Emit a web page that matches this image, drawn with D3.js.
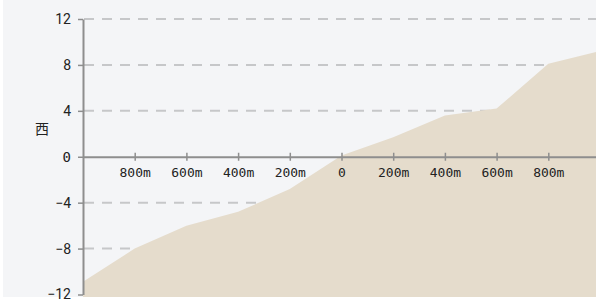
<!DOCTYPE html>
<html>
<head>
<meta charset="utf-8">
<script src="https://cdn.jsdelivr.net/npm/d3@7"></script>
<style>
  html, body { margin: 0; padding: 0; background: #fff; }
  svg { display: block; }
</style>
</head>
<body>
<div id="chart"></div>
<script>
// distance (m) along the section, west is negative
var distances = [-1000, -800, -600, -400, -200, 0, 200, 400, 600, 800, 1000];
var elevations = [-10.9, -8, -6, -4.8, -2.8, 0.1, 1.7, 3.6, 4.2, 8.1, 9.2];
var xTicks = [-800, -600, -400, -200, 0, 200, 400, 600, 800];
var yTicks = [12, 8, 4, 0, -4, -8, -12];
var gridValues = [12, 8, 4, -4, -8];
var sideLabel = "西";

var width = 596, height = 300;
var margin = { left: 83, right: 600, top: 19, bottom: 294.5 },
  plotBottom = 297;

var svg = d3.select("#chart")
  .append("svg")
  .attr("width", width)
  .attr("height", height);

svg.append("rect")
  .attr("x", 3)
  .attr("y", 0)
  .attr("width", width - 3)
  .attr("height", plotBottom)
  .attr("fill", "#f4f5f7");

var x = d3.scaleLinear().domain([-1000, 1000]).range([margin.left, margin.right]);
var y = d3.scaleLinear().domain([-12, 12]).range([margin.bottom, margin.top]);

// dashed grid
svg.append("g")
  .selectAll("line")
  .data(gridValues)
  .enter()
  .append("line")
  .attr("x1", margin.left + 1)
  .attr("x2", width)
  .attr("y1", function (d) { return y(d); })
  .attr("y2", function (d) { return y(d); })
  .attr("stroke", "#c6c7c9")
  .attr("stroke-width", 2)
  .attr("stroke-dasharray", "10,8");

var pts = distances.map(function (d, i) { return [d, elevations[i]]; });

var area = d3.area()
  .x(function (d) { return x(d[0]); })
  .y0(plotBottom)
  .y1(function (d) { return y(d[1]); });

svg.append("path")
  .datum(pts)
  .attr("d", area)
  .attr("fill", "#e5dccc");

// y axis
var yAxis = svg.append("g")
  .attr("transform", "translate(" + margin.left + ",0)")
  .call(d3.axisLeft(y).tickValues(yTicks).tickSize(5).tickPadding(7).tickSizeOuter(0));

yAxis.select(".domain").attr("stroke", "#8e8e8e").attr("stroke-width", 2);
yAxis.selectAll(".tick line").attr("stroke", "#8e8e8e").attr("stroke-width", 1.5);
yAxis.selectAll(".tick text")
  .attr("fill", "#222")
  .style("font-size", "14px")
  .style("font-family", function (d) {
    return d === 0 ? "'DejaVu Sans Mono', monospace" : "Roboto, sans-serif";
  });

// x axis on the zero line
var xAxis = svg.append("g")
  .attr("transform", "translate(0," + y(0) + ")")
  .call(d3.axisBottom(x)
    .tickValues(xTicks)
    .tickSize(3)
    .tickPadding(8)
    .tickSizeOuter(0)
    .tickFormat(function (d) { return d === 0 ? "0" : Math.abs(d) + "m"; }));

xAxis.select(".domain").attr("stroke", "#8e8e8e").attr("stroke-width", 2);
xAxis.selectAll(".tick line")
  .attr("y1", -4)
  .attr("y2", 4)
  .attr("stroke", "#8e8e8e")
  .attr("stroke-width", 1.5);
xAxis.selectAll(".tick text")
  .attr("fill", "#222")
  .style("font-size", "13px")
  .style("font-family", "'DejaVu Sans Mono', monospace");

svg.append("text")
  .attr("x", 42)
  .attr("y", 129)
  .attr("dy", "0.35em")
  .attr("text-anchor", "middle")
  .attr("fill", "#222")
  .style("font-size", "14px")
  .style("font-family", "'Noto Sans CJK SC', sans-serif")
  .text(sideLabel);
</script>
</body>
</html>
